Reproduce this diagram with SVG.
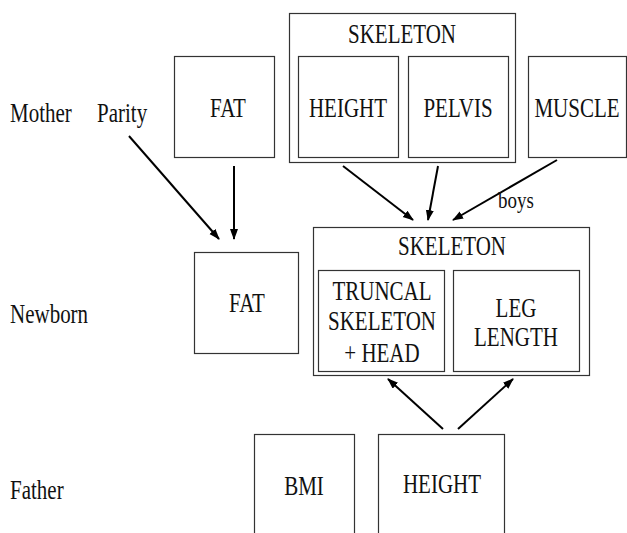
<svg xmlns="http://www.w3.org/2000/svg" width="627" height="533" viewBox="0 0 627 533" font-family="Liberation Serif, Times New Roman, serif">
<defs>
<style>
.box{fill:#fff;stroke:#333;stroke-width:1.2}
.t{font-size:21px;text-anchor:middle;fill:#111}
.l{font-size:21px;fill:#111}
.s{font-size:19px;text-anchor:middle;fill:#111}
.c{stroke:#000;stroke-width:2;fill:none;marker-end:url(#ah)}
</style>
<marker id="ah" markerUnits="userSpaceOnUse" markerWidth="12" markerHeight="10" refX="10" refY="4" orient="auto">
<path d="M0,0 L11,4 L0,8 z" fill="#000"/>
</marker>
</defs>
<rect width="627" height="533" fill="#fff"/>

<g id="labels">
<text class="l" transform="translate(10,122) scale(1,1.26)">Mother</text>
<text class="l" transform="translate(97,122) scale(1,1.26)">Parity</text>
<text class="l" transform="translate(10,323) scale(1,1.26)">Newborn</text>
<text class="l" transform="translate(10,499) scale(1,1.26)">Father</text>
</g>

<g id="mother-fat">
<rect class="box" x="174.5" y="56.5" width="100" height="101"/>
<text class="t" transform="translate(228,117) scale(1,1.26)">FAT</text>
</g>

<g id="mother-skeleton">
<rect class="box" x="289.5" y="13.5" width="226" height="149"/>
<text class="t" transform="translate(402,43) scale(1,1.26)">SKELETON</text>
</g>
<g id="mother-height">
<rect class="box" x="298.5" y="56.5" width="100" height="101"/>
<text class="t" transform="translate(348,117) scale(1,1.26)">HEIGHT</text>
</g>
<g id="mother-pelvis">
<rect class="box" x="408.5" y="56.5" width="100" height="101"/>
<text class="t" transform="translate(458,117) scale(1,1.26)">PELVIS</text>
</g>
<g id="mother-muscle">
<rect class="box" x="528.5" y="56.5" width="98" height="101"/>
<text class="t" transform="translate(577,117) scale(1,1.26)">MUSCLE</text>
</g>

<g id="newborn-fat">
<rect class="box" x="194.5" y="252.5" width="104" height="101"/>
<text class="t" transform="translate(247,312) scale(1,1.26)">FAT</text>
</g>

<g id="newborn-skeleton">
<rect class="box" x="313.5" y="227.5" width="276" height="148"/>
<text class="t" transform="translate(452,255) scale(1,1.26)">SKELETON</text>
</g>
<g id="newborn-truncal">
<rect class="box" x="318.5" y="270.5" width="126" height="101"/>
<text class="t" transform="translate(382,300) scale(1,1.26)">TRUNCAL</text>
<text class="t" transform="translate(382,330) scale(1,1.26)">SKELETON</text>
<text class="t" transform="translate(382,362) scale(1,1.26)">+ HEAD</text>
</g>
<g id="newborn-leg">
<rect class="box" x="453.5" y="270.5" width="126" height="101"/>
<text class="t" transform="translate(516,317) scale(1,1.26)">LEG</text>
<text class="t" transform="translate(516,346) scale(1,1.26)">LENGTH</text>
</g>

<g id="father-bmi">
<rect class="box" x="254.5" y="434.5" width="100" height="110"/>
<text class="t" transform="translate(304,495) scale(1,1.26)">BMI</text>
</g>
<g id="father-height">
<rect class="box" x="378.5" y="434.5" width="126" height="110"/>
<text class="t" transform="translate(442,493) scale(1,1.26)">HEIGHT</text>
</g>

<g id="connectors">
<line class="c" x1="129" y1="136" x2="219" y2="239"/>
<line class="c" x1="234" y1="166" x2="234" y2="239"/>
<line class="c" x1="343" y1="166" x2="413" y2="220"/>
<line class="c" x1="438" y1="166" x2="428" y2="220"/>
<line class="c" x1="557" y1="160" x2="453" y2="220"/>
<line class="c" x1="443" y1="429" x2="388" y2="379"/>
<line class="c" x1="458" y1="429" x2="513" y2="379"/>
<text class="s" transform="translate(516,208) scale(1,1.2)">boys</text>
</g>
</svg>
